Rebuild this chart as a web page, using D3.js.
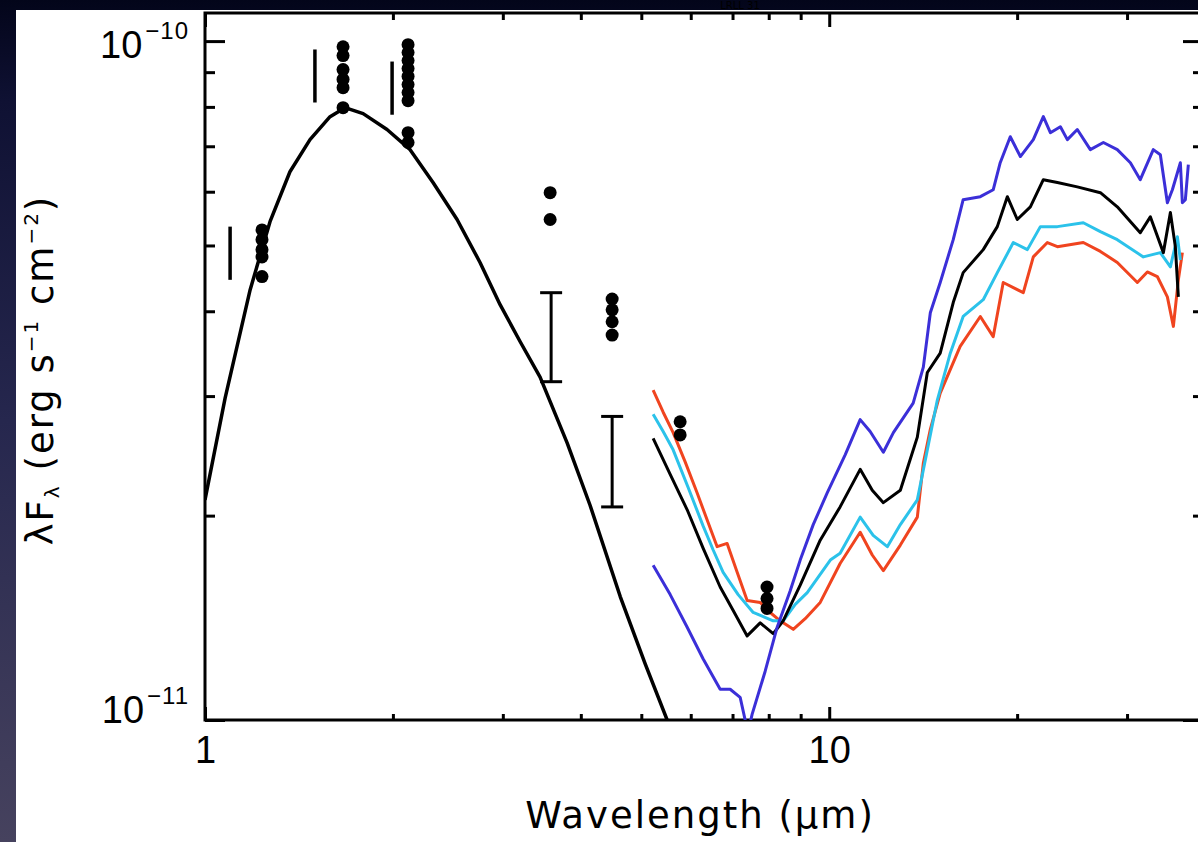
<!DOCTYPE html>
<html><head><meta charset="utf-8">
<script src="https://cdn.jsdelivr.net/npm/d3@7"></script>
<style>html,body{margin:0;padding:0;background:#0b0c2c;overflow:hidden}</style>
</head><body><svg id="c" width="1198" height="842"></svg>
<script>
// ---------------- data (flux in units of 1e-11 erg s^-1 cm^-2) ----------------
const UNIT = 1e-11;
const titleText = "LRLL 31";
// stellar photosphere model
const photoWave = [1.000,1.077,1.181,1.271,1.368,1.473,1.586,1.676,1.792,1.957,2.131,2.319,2.534,2.758,2.970,3.197,3.442,3.803,4.140,4.626,5.072,5.500,5.770];
const photoFlux = [2.11,2.98,4.30,5.42,6.42,7.16,7.74,7.98,7.82,7.41,6.92,6.19,5.46,4.72,4.09,3.61,3.20,2.56,2.07,1.52,1.21,1.00,0.873];
// multi-epoch photometry (filled circles)
const photBands = [1.234,1.664,2.115,3.572,4.49,5.77,7.95];
const photFlux = [
  [5.27,5.10,4.93,4.81,4.50],
  [9.81,9.52,9.08,8.78,8.54,7.98],
  [9.88,9.62,9.36,9.11,8.87,8.63,8.40,8.17,7.33,7.09],
  [5.98,5.46],
  [4.17,4.02,3.86,3.69],
  [2.75,2.63],
  [1.57,1.51,1.46]
];
// ranges without caps
const rangeWave = [1.097,1.500,1.994];
const rangeLow  = [4.45,8.12,7.79];
const rangeHigh = [5.33,9.72,9.33];
// error bars with caps
const errWave = [3.585,4.49];
const errLow  = [3.15,2.06];
const errHigh = [4.26,2.80];
// IRS spectra
const redWave = [5.223,5.420,5.623,5.878,6.144,6.375,6.614,6.862,7.121,7.388,7.752,8.043,8.345,8.757,9.152,9.673,10.41,11.21,11.72,12.21,13.00,13.84,14.15,14.52,15.06,16.21,17.46,18.31,19.00,20.46,21.23,22.36,23.20,25.53,27.19,28.94,31.16,32.33,33.54,34.81,35.59,36.25,36.79];
const redFlux = [3.06,2.84,2.65,2.40,2.16,1.97,1.80,1.82,1.65,1.50,1.49,1.44,1.40,1.36,1.41,1.49,1.70,1.89,1.75,1.66,1.81,1.99,2.39,2.68,3.03,3.55,3.93,3.67,4.41,4.26,4.81,5.05,4.98,5.05,4.90,4.72,4.41,4.57,4.50,4.20,3.80,4.45,4.88];
const cyanWave = [5.223,5.420,5.623,5.943,6.282,6.518,6.762,7.147,7.554,8.133,8.438,8.822,9.221,10.04,10.41,11.21,11.76,12.39,13.00,13.84,14.36,14.90,15.63,16.39,17.65,18.59,19.72,20.77,21.79,23.20,25.53,27.19,28.94,31.86,33.92,35.20,36.12,36.52];
const cyanFlux = [2.82,2.66,2.50,2.20,1.93,1.78,1.65,1.53,1.44,1.40,1.40,1.48,1.54,1.72,1.76,1.99,1.87,1.80,1.94,2.11,2.50,2.96,3.47,3.93,4.16,4.56,5.05,4.93,5.33,5.33,5.40,5.24,5.10,4.81,4.88,4.65,5.15,4.76];
const blackWave = [5.223,5.562,5.922,6.282,6.688,7.017,7.388,7.752,8.133,8.438,8.985,9.673,10.41,11.21,11.72,12.21,13.00,13.84,14.36,15.06,15.80,16.39,17.65,18.59,19.29,20.01,21.00,22.03,23.20,24.97,27.19,28.94,31.50,32.69,34.30,35.20,35.85,36.25];
const blackFlux = [2.60,2.30,2.04,1.79,1.57,1.45,1.33,1.39,1.34,1.40,1.58,1.84,2.06,2.34,2.18,2.09,2.18,2.61,3.25,3.47,4.12,4.56,4.93,5.33,5.90,5.46,5.70,6.25,6.19,6.10,5.98,5.70,5.22,5.51,4.88,5.59,4.98,4.20];
const blueWave = [5.223,5.562,5.922,6.282,6.688,6.939,7.200,7.334,7.388,7.526,7.896,8.253,8.660,8.985,9.427,9.926,10.61,11.21,11.63,12.21,12.67,13.63,14.15,14.52,15.06,15.80,16.39,17.46,18.31,18.79,19.50,20.24,21.23,22.03,22.61,23.46,24.07,24.97,26.20,27.49,28.94,30.37,31.50,33.05,33.92,34.81,35.46,36.52,36.79,37.20,37.61];
const blueFlux = [1.69,1.53,1.37,1.23,1.11,1.11,1.08,1.00,0.95,1.02,1.18,1.37,1.55,1.72,1.94,2.16,2.46,2.77,2.66,2.48,2.65,2.93,3.31,3.98,4.41,5.10,5.84,5.90,6.04,6.62,7.23,6.76,7.16,7.74,7.33,7.48,7.16,7.41,6.92,7.09,6.92,6.62,6.25,6.92,6.80,5.78,6.04,6.62,5.78,5.84,6.58];
// axes
const xMajorTicks = [1,10];
const xMajorLabels = ["1","10"];
const xMinorTicks = [2,3,4,5,6,7,8,9,20,30];
const yMajorTicks = [1e-11,1e-10];
const yMajorExp = ["\u221211","\u221210"];
const yMinorTicks = [2,3,4,5,6,7,8,9].map(d=>d*UNIT);
const xTitle = "Wavelength (\u03bcm)";

// ---------------- drawing ----------------
const W=1198,H=842;
const svg=d3.select('#c');
const defs=svg.append('defs');
const g0=defs.append('linearGradient').attr('id','bg').attr('x1',0).attr('y1',0).attr('x2',0).attr('y2',1);
[[0,'#03051a'],[0.12,'#0f1133'],[0.5,'#26274e'],[1,'#46425e']].forEach(s=>g0.append('stop').attr('offset',s[0]).attr('stop-color',s[1]));
svg.append('rect').attr('width',W).attr('height',H).attr('fill','url(#bg)');
svg.append('text').attr('x',740).attr('y',9).attr('text-anchor','middle')
  .attr('font-family','DejaVu Sans').attr('font-size',10).attr('fill','#000').text(titleText);
svg.append('rect').attr('x',16).attr('y',10).attr('width',W-16).attr('height',H-10).attr('fill','#fff');

const L=205,R=1203,T=13,B=720;
const x=d3.scaleLog().domain([1,39.7]).range([L,R]);
const y=d3.scaleLog().domain([1e-11,1.1e-10]).range([B,T]);

defs.append('clipPath').attr('id','plot').append('rect').attr('x',L).attr('y',T).attr('width',R-L).attr('height',B-T);

function styleAxis(g){g.select('.domain').remove();g.selectAll('.tick line').attr('stroke','#000').attr('stroke-width',3);}
const tickFont='Liberation Sans';
// bottom
svg.append('g').attr('transform',`translate(0,${B})`).call(d3.axisBottom(x).tickValues(xMinorTicks).tickSize(-6).tickFormat('')).call(styleAxis);
const bx=svg.append('g').attr('transform',`translate(0,${B})`).call(d3.axisBottom(x).tickValues(xMajorTicks).tickSize(-13).tickPadding(16).tickFormat((d,i)=>xMajorLabels[i])).call(styleAxis);
bx.selectAll('text').attr('font-family',tickFont).attr('font-size',38).attr('fill','#000');
// top
svg.append('g').attr('transform',`translate(0,${T})`).call(d3.axisTop(x).tickValues(xMinorTicks).tickSize(-7).tickFormat('')).call(styleAxis);
svg.append('g').attr('transform',`translate(0,${T})`).call(d3.axisTop(x).tickValues(xMajorTicks).tickSize(-14).tickFormat('')).call(styleAxis);
// left / right
svg.append('g').attr('transform',`translate(${L},0)`).call(d3.axisLeft(y).tickValues(yMinorTicks).tickSize(-10).tickFormat('')).call(styleAxis);
svg.append('g').attr('transform',`translate(${L},0)`).call(d3.axisLeft(y).tickValues(yMajorTicks).tickSize(-20).tickFormat('')).call(styleAxis);
svg.append('g').attr('transform',`translate(${R},0)`).call(d3.axisRight(y).tickValues(yMinorTicks).tickSize(-10).tickFormat('')).call(styleAxis);
svg.append('g').attr('transform',`translate(${R},0)`).call(d3.axisRight(y).tickValues(yMajorTicks).tickSize(-20).tickFormat('')).call(styleAxis);
// frame
svg.append('rect').attr('x',L).attr('y',T).attr('width',R-L).attr('height',B-T).attr('fill','none').attr('stroke','#000').attr('stroke-width',3);

// y tick labels 10^n
yMajorTicks.forEach((v,i)=>{
  const t=svg.append('text').attr('x',189).attr('y',y(v)+(i===1?17:3)).attr('text-anchor','end')
    .attr('font-family',tickFont).attr('font-size',38).attr('fill','#000');
  t.append('tspan').text('10');
  t.append('tspan').attr('dx',3).attr('dy',-19).attr('font-size',24).attr('letter-spacing',1).text(yMajorExp[i]);
});

// axis titles
svg.append('text').attr('x',700).attr('y',828).attr('text-anchor','middle')
  .attr('font-family','DejaVu Sans').attr('font-size',37).attr('letter-spacing',2).attr('fill','#000').text(xTitle);
const yt=svg.append('text').attr('transform','translate(53,370) rotate(-90)').attr('text-anchor','middle')
  .attr('font-family','DejaVu Sans').attr('font-size',37).attr('letter-spacing',2).attr('fill','#000');
yt.append('tspan').text('\u03bbF');
yt.append('tspan').attr('font-size',20).attr('dy',6).text('\u03bb');
yt.append('tspan').attr('dy',-6).text(' (erg s');
yt.append('tspan').attr('font-size',20).attr('dy',-15).text('\u22121');
yt.append('tspan').attr('dy',15).text(' cm');
yt.append('tspan').attr('font-size',20).attr('dy',-15).text('\u22122');
yt.append('tspan').attr('dy',15).text(')');

// data layer
const plot=svg.append('g').attr('clip-path','url(#plot)');
const line=d3.line().x(d=>x(d[0])).y(d=>y(d[1]*UNIT));
const zip=(a,b)=>a.map((v,i)=>[v,b[i]]);
plot.append('path').datum(zip(photoWave,photoFlux)).attr('d',line).attr('fill','none').attr('stroke','#000').attr('stroke-width',3.5).attr('stroke-linejoin','round');
const spectra=[[redWave,redFlux,'#f0441f'],[cyanWave,cyanFlux,'#2bc2ea'],[blackWave,blackFlux,'#000'],[blueWave,blueFlux,'#3b2fd8']];
spectra.forEach(s=>plot.append('path').datum(zip(s[0],s[1])).attr('d',line).attr('fill','none').attr('stroke',s[2]).attr('stroke-width',3).attr('stroke-linejoin','round'));
// ranges
rangeWave.forEach((w,i)=>plot.append('line').attr('x1',x(w)).attr('x2',x(w)).attr('y1',y(rangeLow[i]*UNIT)).attr('y2',y(rangeHigh[i]*UNIT)).attr('stroke','#000').attr('stroke-width',3.5));
errWave.forEach((w,i)=>{
  const gx=x(w),y1=y(errLow[i]*UNIT),y2=y(errHigh[i]*UNIT);
  plot.append('line').attr('x1',gx).attr('x2',gx).attr('y1',y1).attr('y2',y2).attr('stroke','#000').attr('stroke-width',3);
  [y1,y2].forEach(yy=>plot.append('line').attr('x1',gx-11).attr('x2',gx+11).attr('y1',yy).attr('y2',yy).attr('stroke','#000').attr('stroke-width',3));
});
// photometry
photBands.forEach((w,i)=>photFlux[i].forEach(f=>plot.append('circle').attr('cx',x(w)).attr('cy',y(f*UNIT)).attr('r',6.5).attr('fill','#000')));
</script></body></html>
